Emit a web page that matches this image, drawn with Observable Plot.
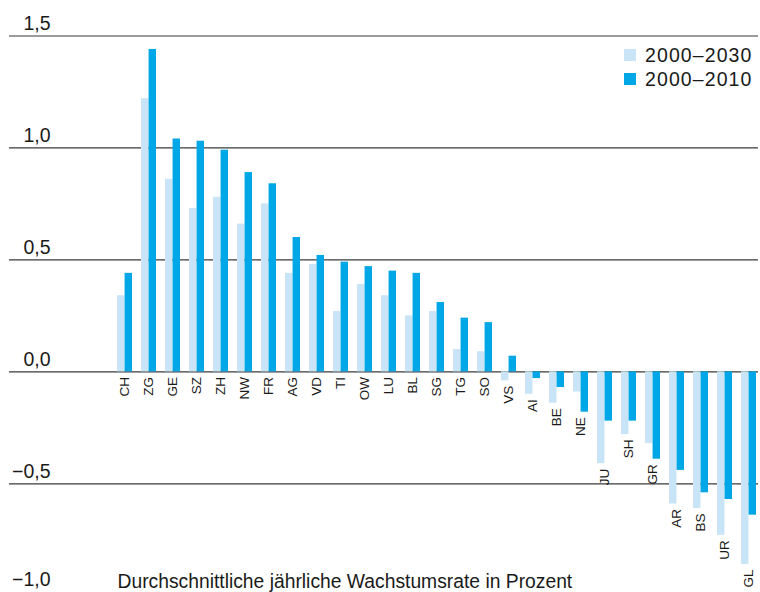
<!DOCTYPE html>
<html>
<head>
<meta charset="utf-8">
<script src="https://cdn.jsdelivr.net/npm/d3@7"></script>
<script src="https://cdn.jsdelivr.net/npm/@observablehq/plot@0.6"></script>
<style>
  body { margin: 0; background: #fff; font-family: "Liberation Sans", Arial, sans-serif; }
  #wrap { position: relative; width: 760px; height: 592px; overflow: hidden; }
  #legend { position: absolute; left: 624px; top: 43px; font-size: 19.5px; letter-spacing: 1.1px; color: #1a1a1a; line-height: 24px; }
  #legend .row { display: flex; align-items: center; white-space: nowrap; }
  #legend .sw { display: inline-block; width: 12px; height: 12px; margin-right: 9px; }
</style>
</head>
<body>
<div id="wrap"></div>
<script>
const categories = ["CH","ZG","GE","SZ","ZH","NW","FR","AG","VD","TI","OW","LU","BL","SG","TG","SO","VS","AI","BE","NE","JU","SH","GR","AR","BS","UR","GL"];
const values2030 = [0.34,1.22,0.86,0.73,0.78,0.66,0.75,0.44,0.48,0.27,0.39,0.34,0.25,0.27,0.10,0.09,-0.04,-0.10,-0.14,-0.09,-0.41,-0.28,-0.32,-0.59,-0.61,-0.73,-0.86];
const values2010 = [0.44,1.44,1.04,1.03,0.99,0.89,0.84,0.60,0.52,0.49,0.47,0.45,0.44,0.31,0.24,0.22,0.07,-0.03,-0.07,-0.18,-0.22,-0.22,-0.39,-0.44,-0.54,-0.57,-0.64];
const seriesNames = ["2000–2030", "2000–2010"];
const seriesColors = ["#c8e4f6", "#00a7e7"];
const gridValues = [1.5, 1.0, 0.5, 0.0, -0.5];
const bottomTick = [-1.0];
const caption = "Durchschnittliche jährliche Wachstumsrate in Prozent";

const data = categories.map((c, i) => ({cat: c, a: values2030[i], b: values2010[i]}));
const fmt = v => v.toFixed(1).replace(".", ",").replace("-", "−");

const xRange = [115, 758];
const padInner = 0.373;
const step = (xRange[1] - xRange[0]) / (categories.length - padInner);
const half = step * (1 - padInner) / 2;

const tickStyle = {frameAnchor: "left", dx: 50, textAnchor: "end", lineAnchor: "bottom", fontSize: 19.5, fill: "#1a1a1a"};

const chart = Plot.plot({
  width: 760,
  height: 592,
  margin: 0,
  style: {fontFamily: "'Liberation Sans', Arial, sans-serif", color: "#1a1a1a", background: "white"},
  x: {type: "band", domain: categories, range: xRange, paddingInner: padInner, paddingOuter: 0, axis: null},
  y: {domain: [-1, 1.5], range: [595.3, 35.5], axis: null},
  marks: [
    Plot.ruleY(gridValues, {stroke: "#3a3a3a", strokeWidth: 1.2, insetLeft: 9, insetRight: 2}),
    Plot.barY(data, {x: "cat", y: "a", fill: seriesColors[0], insetLeft: 0, insetRight: half}),
    Plot.barY(data, {x: "cat", y: "b", fill: seriesColors[1], insetLeft: half, insetRight: 0}),
    Plot.text(data, {
      x: "cat", y: d => Math.min(0, d.a, d.b), text: "cat",
      rotate: -90, textAnchor: "end", lineAnchor: "middle", dy: 5,
      fontSize: 13.5, fill: "#1a1a1a"
    }),
    Plot.text(gridValues, {y: d => d, text: fmt, dy: -6, ...tickStyle}),
    Plot.text(bottomTick, {y: d => d, text: fmt, dy: -10, ...tickStyle}),
    Plot.text([caption], {
      frameAnchor: "bottom-left", dx: 117, dy: -4.5, textAnchor: "start",
      lineAnchor: "bottom", fontSize: 19.3, fill: "#1a1a1a"
    })
  ]
});

const wrap = document.getElementById("wrap");
wrap.appendChild(chart);
const legend = document.createElement("div");
legend.id = "legend";
seriesNames.forEach((name, i) => {
  const row = document.createElement("div");
  row.className = "row";
  const sw = document.createElement("span");
  sw.className = "sw";
  sw.style.background = seriesColors[i];
  row.appendChild(sw);
  row.appendChild(document.createTextNode(name));
  legend.appendChild(row);
});
wrap.appendChild(legend);
</script>
</body>
</html>
